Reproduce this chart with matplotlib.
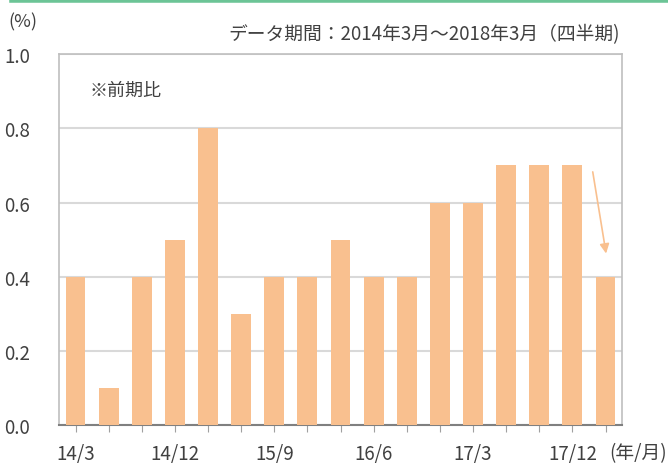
import matplotlib.pyplot as plt
import numpy as np

plt.rcParams['font.family'] = ['Noto Sans CJK JP', 'DejaVu Sans']

# quarterly change, 2014/3 - 2018/3
quarters = ['14/3', '14/6', '14/9', '14/12', '15/3', '15/6', '15/9', '15/12',
            '16/3', '16/6', '16/9', '16/12', '17/3', '17/6', '17/9', '17/12', '18/3']
values = [0.4, 0.1, 0.4, 0.5, 0.8, 0.3, 0.4, 0.4, 0.5, 0.4, 0.4, 0.6, 0.6, 0.7, 0.7, 0.7, 0.4]
shown_labels = ['14/3', '14/12', '15/9', '16/6', '17/3', '17/12']

bar_color = '#F9C08F'
text_color = '#404040'

fig = plt.figure(figsize=(6.68, 4.64), dpi=100)
ax = fig.add_axes([0.0883, 0.082, 0.843, 0.799])

x = np.arange(len(quarters))
ax.bar(x, values, width=0.6, color=bar_color, zorder=3)

# arrow pointing down to the last bar
ax.annotate('', xy=(16.03, 0.455), xytext=(15.6, 0.69),
            arrowprops=dict(arrowstyle='-|>', color=bar_color, lw=1.2, mutation_scale=14),
            zorder=4)

ax.set_xlim(-0.5, len(quarters) - 0.5)
ax.set_ylim(0, 1.0)
ax.set_yticks(np.arange(0, 1.01, 0.2))
ax.set_yticklabels([f'{v:.1f}' for v in np.arange(0, 1.01, 0.2)])
ax.set_xticks(x)
ax.set_xticklabels([q if q in shown_labels else '' for q in quarters])

ax.grid(axis='y', color='#d9d9d9', lw=1.5, zorder=0)
for side in ['top', 'right', 'left']:
    ax.spines[side].set_color('#bfbfbf')
    ax.spines[side].set_linewidth(1.2)
ax.spines['bottom'].set_color('#808080')
ax.spines['bottom'].set_linewidth(1.5)

ax.tick_params(axis='y', length=0, pad=21, labelsize=13.5, labelcolor=text_color)
ax.tick_params(axis='x', direction='out', length=5, color='#a0a0a0', pad=8,
               labelsize=13.5, labelcolor=text_color)

ax.text(0.055, 0.905, '※前期比', transform=ax.transAxes, fontsize=13, color=text_color, va='center')
fig.text(0.012, 0.952, '(%)', fontsize=13, color=text_color, va='center')
fig.text(0.928, 0.925, 'データ期間：2014年3月～2018年3月（四半期)', fontsize=13.5,
         color=text_color, ha='right', va='center')
fig.text(0.998, 0.022, '(年/月)', fontsize=13.5, color=text_color, ha='right', va='center')

# green rule along the top
fig.add_artist(plt.Line2D([0.018, 1.0], [0.997, 0.997], color='#6CC496', lw=4,
                          transform=fig.transFigure))

fig.savefig('out.png', dpi=100)
